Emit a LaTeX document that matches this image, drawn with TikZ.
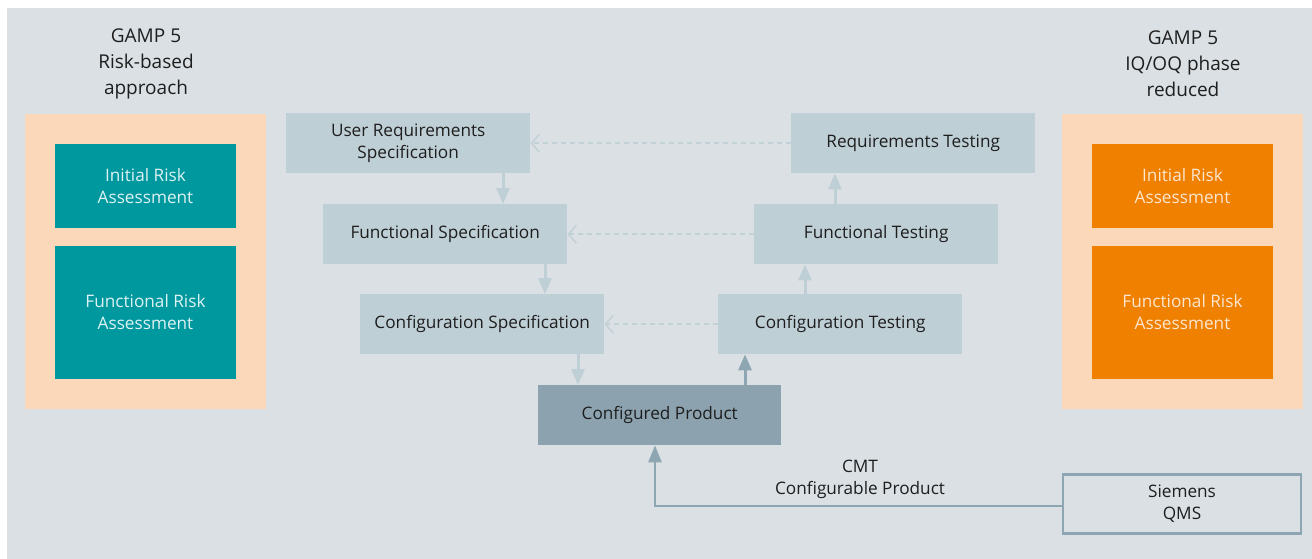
\documentclass[tikz,border=0pt]{standalone}
\usepackage{fontspec}
\setmainfont{Open Sans}
\usetikzlibrary{arrows.meta}

\definecolor{bg}{HTML}{DAE0E4}
\definecolor{peach}{HTML}{FBD8B9}
\definecolor{petrol}{HTML}{00989F}
\definecolor{orng}{HTML}{EF8000}
\definecolor{boxfill}{HTML}{BFCFD6}
\definecolor{prodfill}{HTML}{8CA3AF}
\definecolor{linkcol}{HTML}{8DA6B2}
\definecolor{dashcol}{HTML}{C2D0D7}
\definecolor{txt}{HTML}{1E1E1E}
\definecolor{petroltxt}{HTML}{DDF2F2}
\definecolor{orangetxt}{HTML}{FCE6CF}

\tikzset{
  panel/.style={fill=peach, minimum width=241pt, minimum height=295pt, inner sep=0pt},
  riskbox/.style={minimum width=181pt, inner sep=0pt, align=center,
    font=\fontsize{17.2}{22}\selectfont},
  tealbox/.style={riskbox, fill=petrol, text=petroltxt},
  orangebox/.style={riskbox, fill=orng, text=orangetxt},
  heading/.style={align=center, text=txt, font=\fontsize{19}{26}\selectfont},
  phasebox/.style={fill=boxfill, minimum width=244pt, minimum height=60pt,
    inner sep=0pt, align=center, text=txt, anchor=north west,
    font=\fontsize{17.2}{22}\selectfont},
  prodbox/.style={phasebox, fill=prodfill, minimum width=243pt},
  qmsbox/.style={draw=linkcol, line width=2.5pt, minimum width=238pt, minimum height=59pt,
    inner sep=0pt, align=center, text=txt, font=\fontsize{17.2}{22}\selectfont},
  flow/.style={draw=boxfill, line width=3pt, -{Triangle[width=13pt,length=16pt]}},
  flowdark/.style={flow, draw=linkcol},
  trace/.style={draw=dashcol, line width=1.5pt, dash pattern=on 5pt off 4pt,
    -{Straight Barb[length=8pt,width=18pt,line width=1.5pt]}},
  supply/.style={draw=linkcol, line width=2.5pt, -{Triangle[width=13pt,length=17pt]}},
}

\begin{document}
\begin{tikzpicture}[x=1pt,y=-1pt]
\useasboundingbox (0,0) rectangle (1312,559);
\fill[white] (0,0) rectangle (1312,559);
\fill[bg] (7,8) rectangle (1312,559);

% left column: risk-based approach
\node[heading] (lhead) at (146,64) {GAMP 5\\Risk-based\\approach};
\node[panel] (lpanel) at (145.5,261.5) {};
\node[tealbox, minimum height=84pt] (lira) at (145.5,186) {Initial Risk\\Assessment};
\node[tealbox, minimum height=133pt] (lfra) at (145.5,312.5) {Functional Risk\\Assessment};

% right column: reduced IQ/OQ phase
\node[heading] (rhead) at (1183,64) {GAMP 5\\IQ/OQ phase\\reduced};
\node[panel] (rpanel) at (1182.5,261.5) {};
\node[orangebox, minimum height=84pt] (rira) at (1182.5,186) {Initial Risk\\Assessment};
\node[orangebox, minimum height=133pt] (rfra) at (1182.5,312.5) {Functional Risk\\Assessment};

% V-model: specification side
\node[phasebox] (urs) at (286,113) {User Requirements\\Specification};
\node[phasebox] (fs)  at (323,204) {Functional Specification};
\node[phasebox] (cs)  at (360,294) {Configuration Specification};

% V-model: testing side
\node[phasebox] (rt) at (791,113) {Requirements Testing};
\node[phasebox] (ft) at (754,204) {Functional Testing};
\node[phasebox] (ct) at (718,294) {Configuration Testing};

% bottom of the V
\node[prodbox] (cp) at (538,385) {Configured Product};

% quality management system
\node[qmsbox] (qms) at (1182,504) {Siemens\\QMS};
\node[align=center, text=txt, font=\fontsize{17.2}{22}\selectfont] (cmt) at (860,479) {CMT\\Configurable Product};

% downward specification flow
\draw[flow] ([xshift=217pt]urs.south west) -- ([xshift=217pt]urs.south west |- fs.north);
\draw[flow] ([xshift=222pt]fs.south west) -- ([xshift=222pt]fs.south west |- cs.north);
\draw[flow] ([xshift=218pt]cs.south west) -- ([xshift=218pt]cs.south west |- cp.north);

% upward testing flow
\draw[flowdark] ([xshift=207pt]cp.north west) -- ([xshift=207pt]cp.north west |- ct.south);
\draw[flow] ([xshift=87pt]ct.north west) -- ([xshift=87pt]ct.north west |- ft.south);
\draw[flow] ([xshift=81pt]ft.north west) -- ([xshift=81pt]ft.north west |- rt.south);

% traceability between tests and specifications
\draw[trace] (rt.west) -- (urs.east);
\draw[trace] (ft.west) -- (fs.east);
\draw[trace] (ct.west) -- (cs.east);

% supply of the configurable product
\draw[supply] ([yshift=-2pt]qms.west) -| ([xshift=117pt]cp.south west);
\end{tikzpicture}
\end{document}
